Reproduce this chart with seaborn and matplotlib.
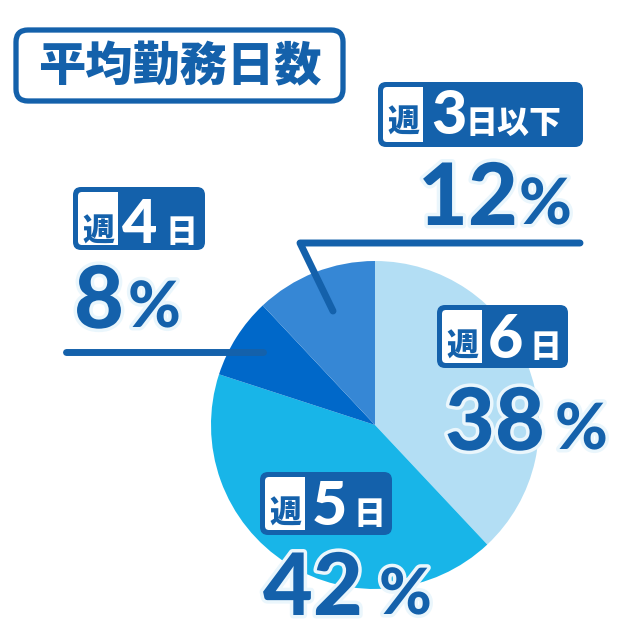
import seaborn as sns
import matplotlib.pyplot as plt
import matplotlib.patheffects as pe
from matplotlib.patches import FancyBboxPatch, Rectangle

sns.set_theme(style="white")
plt.rcParams['font.family'] = ['Noto Sans CJK JP', 'DejaVu Sans']

# data
days = ['週6日', '週5日', '週4日', '週3日以下']
shares = [38, 42, 8, 12]
colors = sns.color_palette(['#B3DEF4', '#18B5E8', '#0068C9', '#3687D5'])
big_nums = ['6', '5', '4', '3']
suffixes = ['日', '日', '日', '日以下']

BLUE = '#1461AB'
NUMFONT = 'Lato'

fig = plt.figure(figsize=(6.4, 6.4), dpi=100)

# pie: centre (375, 425) px, radius 164 px
cx, cy, r = 375, 425, 164
pax = fig.add_axes([(cx - r) / 640, (640 - cy - r) / 640, 2 * r / 640, 2 * r / 640])
pax.pie(shares, colors=colors, startangle=90, counterclock=False,
        wedgeprops=dict(linewidth=0))
pax.set_xlim(-1, 1)
pax.set_ylim(-1, 1)
pax.set_aspect('equal')
pax.axis('off')

# overlay in pixel coordinates
ax = fig.add_axes([0, 0, 1, 1])
ax.set_xlim(0, 640)
ax.set_ylim(640, 0)
ax.axis('off')
ax.patch.set_alpha(0)

# title
ax.add_patch(FancyBboxPatch((16, 30), 327, 71, boxstyle='round,pad=0,rounding_size=12',
                            fc='white', ec=BLUE, lw=3.8))
ax.text(180, 67, '平均勤務日数', color=BLUE, fontsize=34, fontweight='heavy',
        ha='center', va='center')


def badge(x0, y0, w, h, big, suffix, big_x, suf_x, base):
    ax.add_patch(FancyBboxPatch((x0, y0), w, h, boxstyle='round,pad=0,rounding_size=8',
                                fc=BLUE, ec='none'))
    ax.add_patch(FancyBboxPatch((x0 + 5, y0 + 5), 40, h - 10,
                                boxstyle='round,pad=0,rounding_size=4', fc='white', ec='none'))
    ax.add_patch(Rectangle((x0 + 25, y0 + 5), 20, h - 10, fc='white', ec='none'))
    ax.text(x0 + 25, base - 1, '週', color=BLUE, fontsize=23, fontweight='heavy',
            ha='center', va='baseline')
    ax.text(big_x, base, big, color='white', fontsize=44, fontweight='black',
            family=NUMFONT, ha='left', va='baseline')
    ax.text(suf_x, base - 1, suffix, color='white', fontsize=23, fontweight='heavy',
            ha='left', va='baseline')


def percent(x, base, value, pct_x):
    stroke = [pe.withStroke(linewidth=5, foreground='#EAF6FC')]
    ax.text(x, base, str(value), color=BLUE, fontsize=62, fontweight='black',
            family=NUMFONT, ha='left', va='baseline', path_effects=stroke)
    ax.text(pct_x, base - 1, '%', color=BLUE, fontsize=46, fontweight='black',
            family=NUMFONT, ha='left', va='baseline', path_effects=stroke)


# badge geometry: (x0, y0, w, h, big_x, suf_x, baseline)
badge_pos = [(437, 305, 131, 63, 488, 530, 358),
             (260, 472, 132, 63, 312, 354, 525),
             (73, 187, 132, 63, 122, 166, 243),
             (378, 82, 205, 65, 431, 466, 134)]
pct_pos = [(445, 450, 555), (263, 615, 379), (74, 328, 128), (418, 225, 519)]

for i in range(len(days)):
    x0, y0, w, h, bx, sx, base = badge_pos[i]
    badge(x0, y0, w, h, big_nums[i], suffixes[i], bx, sx, base)
    px, pb, ppx = pct_pos[i]
    percent(px, pb, shares[i], ppx)

# leader lines
ax.plot([580, 300, 333], [243, 243, 311], color=BLUE, lw=5,
        solid_capstyle='round', solid_joinstyle='round')
ax.plot([66, 263], [352, 352], color=BLUE, lw=5, solid_capstyle='round')

fig.savefig('out.png', dpi=100)
